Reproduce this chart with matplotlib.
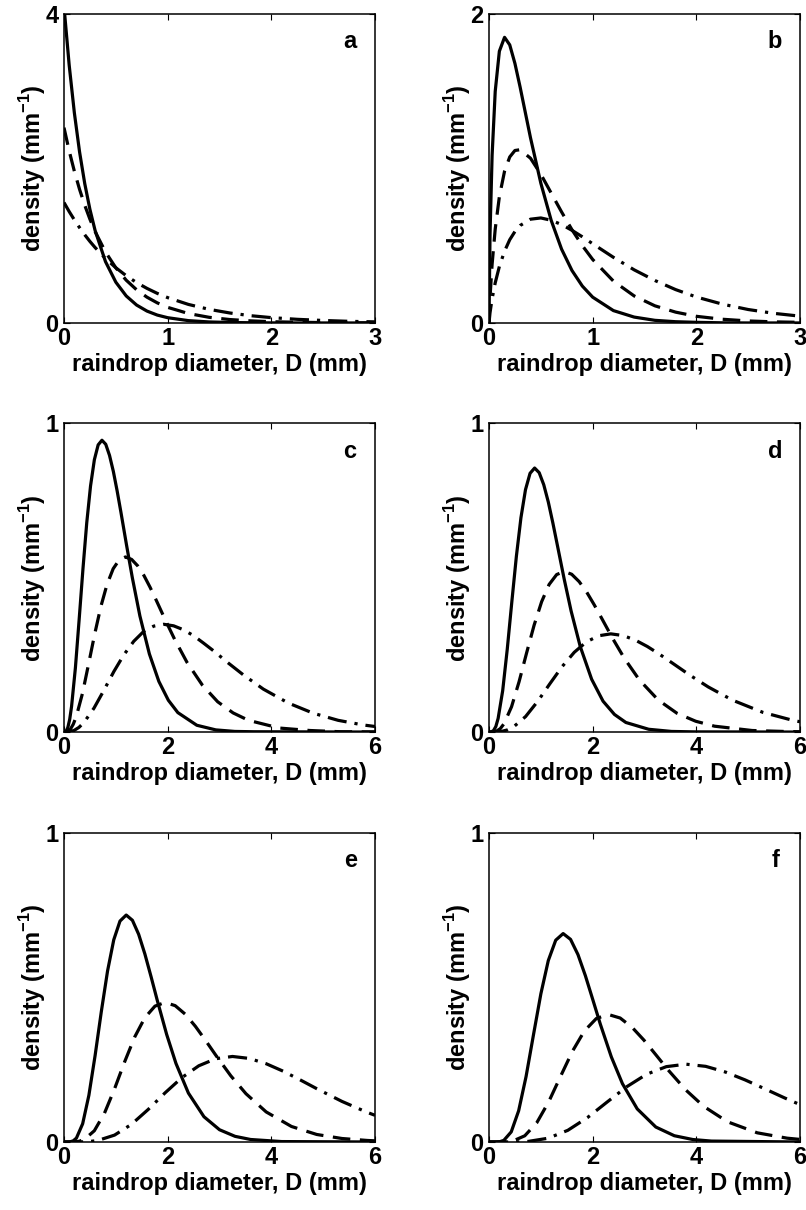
"""Raindrop size density curves, six panels (a-f)."""
import matplotlib
matplotlib.use("Agg")
import matplotlib.pyplot as plt

plt.rcParams.update({
    "font.family": "Liberation Sans",
    "font.size": 17,
    "font.weight": "bold",
    "axes.labelweight": "bold",
    "mathtext.fontset": "custom",
    "mathtext.rm": "Liberation Sans:bold",
    "axes.linewidth": 1.1,
    "xtick.direction": "in",
    "ytick.direction": "in",
    "xtick.top": True,
    "ytick.right": True,
    "xtick.major.size": 4,
    "ytick.major.size": 4,
    "xtick.major.pad": 3,
    "ytick.major.pad": 4,
})

# ---------------------------------------------------------------------------
# Data
# ---------------------------------------------------------------------------
# panel a
A_X = [0, 0.05, 0.1, 0.15, 0.2, 0.25, 0.3, 0.4, 0.5, 0.6, 0.7, 0.8, 0.9, 1.0,
       1.2, 1.4, 1.6, 1.8, 2.0, 2.25, 2.5, 2.75, 3.0]
A_SOLID = [4.1, 3.34, 2.721, 2.217, 1.806, 1.471, 1.198, 0.795, 0.528, 0.350,
           0.232, 0.154, 0.102, 0.068, 0.030, 0.013, 0.006, 0.003, 0.001, 0.0,
           0.0, 0.0, 0.0]
A_DASH = [2.53, 2.229, 1.965, 1.731, 1.525, 1.344, 1.184, 0.920, 0.714, 0.554,
          0.430, 0.334, 0.260, 0.202, 0.122, 0.073, 0.044, 0.027, 0.016, 0.009,
          0.005, 0.002, 0.001]
A_DASHDOT = [1.56, 1.443, 1.335, 1.235, 1.142, 1.056, 0.977, 0.836, 0.715,
             0.612, 0.523, 0.448, 0.383, 0.328, 0.240, 0.176, 0.129, 0.094,
             0.069, 0.047, 0.032, 0.021, 0.014]

# panel b
B_X = [0, 0.01, 0.03, 0.06, 0.1, 0.15, 0.2, 0.25, 0.3, 0.4, 0.5, 0.6, 0.7,
       0.8, 0.9, 1.0, 1.2, 1.4, 1.6, 1.8, 2.0, 2.25, 2.5, 2.75, 3.0]
B_SOLID = [0, 0.579, 1.086, 1.500, 1.760, 1.850, 1.801, 1.681, 1.528, 1.200,
           0.905, 0.664, 0.478, 0.340, 0.239, 0.167, 0.080, 0.038, 0.017,
           0.008, 0.004, 0.001, 0.0, 0.0, 0.0]
B_DASH = [0, 0.167, 0.380, 0.608, 0.818, 0.983, 1.075, 1.117, 1.122, 1.067,
          0.963, 0.841, 0.719, 0.604, 0.501, 0.411, 0.271, 0.175, 0.111,
          0.070, 0.043, 0.024, 0.013, 0.007, 0.004]
B_DASHDOT = [0, 0.067, 0.157, 0.260, 0.366, 0.465, 0.539, 0.592, 0.631,
             0.672, 0.680, 0.665, 0.637, 0.600, 0.558, 0.513, 0.425, 0.344,
             0.275, 0.216, 0.168, 0.122, 0.087, 0.062, 0.044]

# panel c
C_SOLID_X = [0, 0.037, 0.073, 0.110, 0.146, 0.220, 0.293, 0.366, 0.439, 0.512,
             0.586, 0.659, 0.732, 0.805, 0.878, 0.952, 1.025, 1.098, 1.208,
             1.318, 1.464, 1.647, 1.830, 2.013, 2.196, 2.562, 2.928, 3.294,
             3.660, 6.0]
C_SOLID = [0, 0.002, 0.014, 0.041, 0.083, 0.208, 0.366, 0.529, 0.678, 0.797,
           0.882, 0.930, 0.945, 0.932, 0.896, 0.844, 0.781, 0.712, 0.604,
           0.500, 0.376, 0.253, 0.164, 0.103, 0.063, 0.022, 0.007, 0.002,
           0.001, 0.0]
C_DASH_X = [0, 0.059, 0.119, 0.178, 0.237, 0.356, 0.474, 0.593, 0.712, 0.830,
            0.949, 1.067, 1.186, 1.305, 1.423, 1.542, 1.660, 1.779, 1.957,
            2.135, 2.372, 2.669, 2.965, 3.262, 3.558, 4.151, 4.744, 5.337,
            5.930, 6.0]
C_DASH = [0, 0.001, 0.008, 0.025, 0.050, 0.125, 0.220, 0.318, 0.407, 0.478,
          0.529, 0.558, 0.567, 0.559, 0.538, 0.507, 0.469, 0.427, 0.362,
          0.300, 0.226, 0.152, 0.098, 0.062, 0.038, 0.013, 0.005, 0.001,
          0.0004, 0.0004]
C_DASHDOT_X = [0, 0.096, 0.192, 0.288, 0.385, 0.577, 0.769, 0.962, 1.154,
               1.346, 1.538, 1.731, 1.923, 2.115, 2.308, 2.500, 2.692, 2.885,
               3.173, 3.461, 3.846, 4.327, 4.808, 5.288, 5.769, 6.0]
C_DASHDOT = [0, 0.001, 0.005, 0.015, 0.031, 0.077, 0.135, 0.196, 0.250,
             0.294, 0.326, 0.343, 0.349, 0.344, 0.331, 0.312, 0.288, 0.263,
             0.223, 0.185, 0.139, 0.094, 0.061, 0.038, 0.023, 0.018]

# panel d
D_SOLID_X = [0, 0.044, 0.088, 0.132, 0.176, 0.264, 0.352, 0.440, 0.528,
             0.616, 0.704, 0.792, 0.880, 0.968, 1.056, 1.144, 1.232, 1.320,
             1.452, 1.584, 1.760, 1.980, 2.200, 2.420, 2.640, 3.080, 3.520,
             3.960, 6.0]
D_SOLID = [0, 0.0005, 0.005, 0.018, 0.044, 0.134, 0.268, 0.421, 0.569, 0.694,
           0.785, 0.838, 0.855, 0.840, 0.801, 0.745, 0.677, 0.604, 0.494,
           0.392, 0.277, 0.171, 0.100, 0.057, 0.031, 0.009, 0.002, 0.0006, 0.0]
D_DASH_X = [0, 0.0725, 0.145, 0.2175, 0.290, 0.435, 0.580, 0.725, 0.870,
            1.015, 1.160, 1.305, 1.450, 1.595, 1.740, 1.885, 2.030, 2.175,
            2.3925, 2.610, 2.900, 3.2625, 3.625, 3.9875, 4.350, 5.075, 5.800,
            6.0]
D_DASH = [0, 0.0003, 0.003, 0.011, 0.027, 0.082, 0.163, 0.256, 0.346, 0.422,
          0.478, 0.510, 0.520, 0.511, 0.487, 0.453, 0.412, 0.368, 0.301,
          0.239, 0.169, 0.104, 0.061, 0.035, 0.019, 0.005, 0.0014, 0.001]
D_DASHDOT_X = [0, 0.1175, 0.235, 0.3525, 0.470, 0.705, 0.940, 1.175, 1.410,
               1.645, 1.880, 2.115, 2.350, 2.585, 2.820, 3.055, 3.290, 3.525,
               3.8775, 4.230, 4.700, 5.2875, 5.875, 6.0]
D_DASHDOT = [0, 0.0002, 0.0018, 0.0068, 0.0163, 0.050, 0.0996, 0.1566,
             0.2118, 0.2583, 0.2921, 0.3118, 0.318, 0.3126, 0.298, 0.277,
             0.2519, 0.2248, 0.1839, 0.146, 0.1031, 0.0635, 0.0373, 0.0334]

# panel e
E_SOLID_X = [0, 0.06, 0.12, 0.18, 0.24, 0.36, 0.48, 0.60, 0.72, 0.84, 0.96,
             1.08, 1.20, 1.32, 1.44, 1.56, 1.68, 1.80, 1.98, 2.16, 2.40, 2.70,
             3.00, 3.30, 3.60, 4.20, 6.0]
E_SOLID = [0, 0.0, 0.0007, 0.0039, 0.0128, 0.0591, 0.1512, 0.2799, 0.4224,
           0.5536, 0.6548, 0.7154, 0.735, 0.718, 0.6727, 0.609, 0.5351,
           0.4582, 0.3486, 0.2544, 0.1584, 0.0818, 0.0397, 0.0183, 0.0081,
           0.0014, 0.0]
E_DASH_X = [0, 0.0975, 0.195, 0.2925, 0.39, 0.585, 0.78, 0.975, 1.17, 1.365,
            1.56, 1.755, 1.95, 2.145, 2.34, 2.535, 2.73, 2.925, 3.2175, 3.51,
            3.90, 4.3875, 4.875, 5.3625, 5.85, 6.0]
E_DASH = [0, 0.0, 0.0004, 0.0024, 0.0079, 0.0364, 0.093, 0.1721, 0.2598,
          0.3404, 0.4027, 0.44, 0.452, 0.4415, 0.4137, 0.3745, 0.3291, 0.2818,
          0.2144, 0.1564, 0.0974, 0.0503, 0.0244, 0.0113, 0.005, 0.0038]
E_DASHDOT_X = [0, 0.1625, 0.325, 0.4875, 0.65, 0.975, 1.30, 1.625, 1.95,
               2.275, 2.60, 2.925, 3.25, 3.575, 3.90, 4.225, 4.55, 4.875,
               5.3625, 5.85, 6.0]
E_DASHDOT = [0, 0.0, 0.0002, 0.0015, 0.0048, 0.0223, 0.057, 0.1055, 0.1592,
             0.2086, 0.2468, 0.2696, 0.277, 0.2706, 0.2535, 0.2295, 0.2017,
             0.1727, 0.1314, 0.0959, 0.0864]

# panel f
F_SOLID_X = [0, 0.0715, 0.143, 0.2145, 0.286, 0.429, 0.572, 0.715, 0.858,
             1.001, 1.144, 1.287, 1.43, 1.573, 1.716, 1.859, 2.002, 2.145,
             2.3595, 2.574, 2.86, 3.2175, 3.575, 3.9325, 4.29, 6.0]
F_SOLID = [0, 0.0, 0.0001, 0.0013, 0.0053, 0.0328, 0.1012, 0.2119, 0.3472,
           0.4803, 0.5877, 0.6535, 0.675, 0.6562, 0.607, 0.5387, 0.4612,
           0.3829, 0.2757, 0.1889, 0.1071, 0.0485, 0.0203, 0.008, 0.003, 0.0]
F_DASH_X = [0, 0.115, 0.23, 0.345, 0.46, 0.69, 0.92, 1.15, 1.38, 1.61, 1.84,
            2.07, 2.30, 2.53, 2.76, 2.99, 3.22, 3.45, 3.795, 4.14, 4.60, 5.175,
            5.75, 6.0]
F_DASH = [0, 0.0, 0.0001, 0.0008, 0.0032, 0.0201, 0.0619, 0.1296, 0.2124,
          0.2939, 0.3596, 0.3998, 0.413, 0.4015, 0.3714, 0.3296, 0.2822,
          0.2343, 0.1687, 0.1156, 0.0655, 0.0297, 0.0124, 0.0084]
F_DASHDOT_X = [0, 0.19, 0.38, 0.57, 0.76, 1.14, 1.52, 1.90, 2.28, 2.66, 3.04,
               3.42, 3.80, 4.18, 4.56, 4.94, 5.32, 5.70, 6.0]
F_DASHDOT = [0, 0.0, 0.0001, 0.0005, 0.002, 0.0122, 0.0378, 0.0791, 0.1296,
             0.1793, 0.2194, 0.244, 0.252, 0.245, 0.2266, 0.2011, 0.1722,
             0.1429, 0.121]

PANELS = [
    ("a", [(A_X, A_SOLID), (A_X, A_DASH), (A_X, A_DASHDOT)], 3, [0, 1, 2, 3], 4),
    ("b", [(B_X, B_SOLID), (B_X, B_DASH), (B_X, B_DASHDOT)], 3, [0, 1, 2, 3], 2),
    ("c", [(C_SOLID_X, C_SOLID), (C_DASH_X, C_DASH), (C_DASHDOT_X, C_DASHDOT)],
     6, [0, 2, 4, 6], 1),
    ("d", [(D_SOLID_X, D_SOLID), (D_DASH_X, D_DASH), (D_DASHDOT_X, D_DASHDOT)],
     6, [0, 2, 4, 6], 1),
    ("e", [(E_SOLID_X, E_SOLID), (E_DASH_X, E_DASH), (E_DASHDOT_X, E_DASHDOT)],
     6, [0, 2, 4, 6], 1),
    ("f", [(F_SOLID_X, F_SOLID), (F_DASH_X, F_DASH), (F_DASHDOT_X, F_DASHDOT)],
     6, [0, 2, 4, 6], 1),
]

# line styles: solid, dashed, dash-dot
STYLES = [dict(linestyle="-"),
          dict(linestyle=(0, (5.5, 3))),
          dict(linestyle=(0, (6, 2.5, 1, 2.5)))]

# axes boxes in figure fractions
COL_LEFT = [0.0794, 0.6067]
ROW_BOTTOM = [0.7331, 0.3950, 0.0562]
AX_W = 0.3859
AX_H = 0.2552

fig = plt.figure(figsize=(8.06, 12.10), dpi=100)

for i, (letter, curves, xmax, xticks, ymax) in enumerate(PANELS):
    row, col = divmod(i, 2)
    ax = fig.add_axes([COL_LEFT[col], ROW_BOTTOM[row], AX_W, AX_H])
    for (xs, ys), st in zip(curves, STYLES):
        ax.plot(xs, ys, color="black", linewidth=2.3, **st)
    ax.set_xlim(0, xmax)
    ax.set_ylim(0, ymax)
    ax.set_xticks(xticks)
    ax.set_yticks([0, ymax])
    ax.set_xlabel("raindrop diameter, D (mm)", labelpad=2)
    ax.set_ylabel(r"density (mm$^{-1}$)", labelpad=-2)
    ax.text(0.92, 0.91, letter, transform=ax.transAxes,
            ha="center", va="center", fontsize=17)

fig.savefig("out.png", dpi=100)
